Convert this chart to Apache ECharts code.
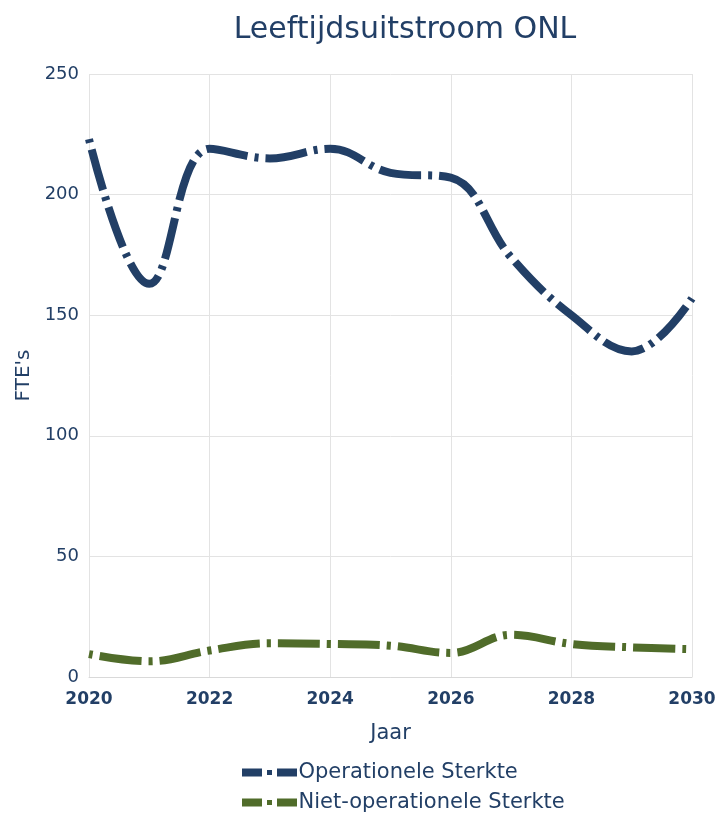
<!DOCTYPE html>
<html>
<head>
<meta charset="utf-8">
<script src="https://cdn.jsdelivr.net/npm/echarts@6/dist/echarts.min.js"></script>
<style>
  html, body { margin: 0; padding: 0; background: #fff; }
  #chart { width: 723px; height: 818px; }
</style>
</head>
<body>
<div id="chart"></div>
<script>
  const years = [2020, 2021, 2022, 2023, 2024, 2025, 2026, 2027, 2028, 2029, 2030];
  const operationeel = [223, 163, 219, 215, 219, 209, 207, 174, 150, 135, 157];
  const nietOperationeel = [9.5, 6.5, 11, 14, 13.7, 13, 10, 17.5, 13.7, 12.3, 11.5];

  const navy = '#223f66';
  const green = '#506c2a';
  const font = 'DejaVu Sans, Verdana, sans-serif';
  // dash - dot - dash legend glyph
  const legendIcon = 'path://M0,0h20v8h-20z M25,1.5h5v5h-5z M35,0h20v8h-20z';

  const chart = echarts.init(document.getElementById('chart'));

  const mkSeries = (name, vals, color) => ({
    name: name,
    type: 'line',
    smooth: 0.4,
    symbol: 'none',
    data: years.map((y, i) => [y, vals[i]]),
    lineStyle: {
      color: color,
      width: 8,
      type: [42, 7, 4, 7],
      dashOffset: 49,
      cap: 'butt'
    },
    itemStyle: { color: color }
  });

  chart.setOption({
    animation: false,
    title: {
      text: 'Leeftijdsuitstroom ONL',
      left: 400,
      textAlign: 'center',
      top: 10,
      textStyle: { color: navy, fontFamily: font, fontSize: 30, fontWeight: 'normal' }
    },
    grid: { left: 89, right: 31, top: 74, bottom: 141 },
    xAxis: {
      type: 'value',
      min: 2020,
      max: 2030,
      interval: 2,
      name: 'Jaar',
      nameLocation: 'middle',
      nameGap: 46,
      nameTextStyle: { color: navy, fontFamily: font, fontSize: 21 },
      axisLine: { show: true, lineStyle: { color: '#d9d9d9' } },
      axisTick: { show: false },
      axisLabel: {
        color: navy, fontFamily: font, fontSize: 17, margin: 14, fontWeight: 'bold',
        formatter: v => String(v)
      },
      splitLine: { show: true, lineStyle: { color: '#e3e3e3' } }
    },
    yAxis: {
      type: 'value',
      min: 0,
      max: 250,
      interval: 50,
      name: "FTE's",
      nameLocation: 'middle',
      nameGap: 54,
      nameTextStyle: { color: navy, fontFamily: font, fontSize: 20 },
      axisLine: { show: false },
      axisTick: { show: false },
      axisLabel: { color: navy, fontFamily: font, fontSize: 18, margin: 10 },
      splitLine: { show: true, lineStyle: { color: '#e3e3e3' } }
    },
    legend: {
      orient: 'vertical',
      left: 242,
      top: 762,
      padding: 0,
      itemWidth: 56,
      itemHeight: 8,
      itemGap: 9,
      icon: legendIcon,
      textStyle: { color: navy, fontFamily: font, fontSize: 21, padding: [0, 0, 0, -4] },
      data: ['Operationele Sterkte', 'Niet-operationele Sterkte']
    },
    series: [
      mkSeries('Operationele Sterkte', operationeel, navy),
      mkSeries('Niet-operationele Sterkte', nietOperationeel, green)
    ]
  });
</script>
</body>
</html>
